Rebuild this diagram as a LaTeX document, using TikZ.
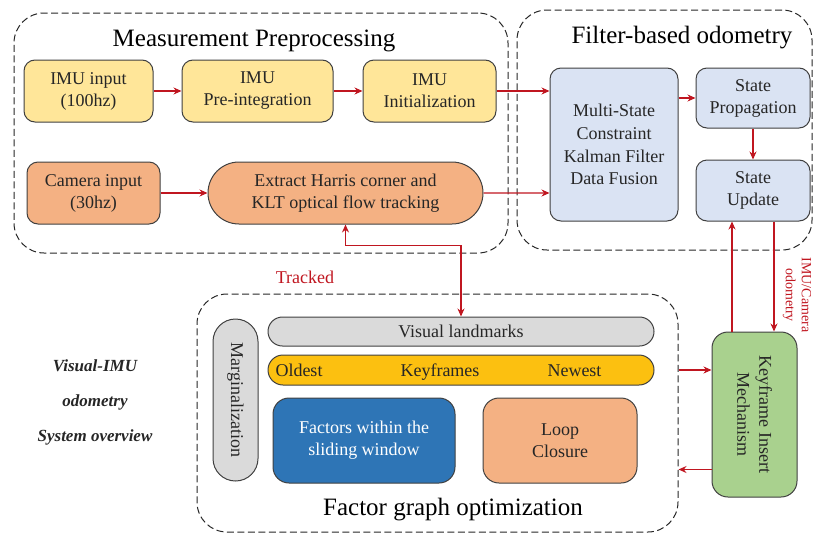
\documentclass[tikz,border=0pt]{standalone}
\usepackage{fontspec}
\setmainfont{Liberation Serif}
\usetikzlibrary{arrows.meta,shapes.misc}
\definecolor{imuyellow}{HTML}{FFE699}
\definecolor{camorange}{HTML}{F4B183}
\definecolor{filterblue}{HTML}{DAE3F3}
\definecolor{lmgray}{HTML}{DADADA}
\definecolor{kfgold}{HTML}{FCC010}
\definecolor{facblue}{HTML}{2E75B6}
\definecolor{kimgreen}{HTML}{A9D18E}
\definecolor{arrowred}{RGB}{192,22,32}
\definecolor{boxline}{HTML}{404040}
\definecolor{textdark}{HTML}{262626}
\begin{document}
\begin{tikzpicture}[x=1pt, y=-1pt, >={Stealth[length=8pt,width=7pt]},
    box/.style={draw=boxline, line width=1pt, rounded corners=11pt, align=center,
      text=textdark, inner sep=2pt, font=\fontsize{18}{22}\selectfont},
    pill/.style={box, rounded rectangle, sharp corners},
    group/.style={draw=textdark, line width=1pt, dash pattern=on 7pt off 3.5pt, rounded corners=30pt},
    arr/.style={->, draw=arrowred, line width=1.4pt},
    title/.style={font=\fontsize{25}{30}\selectfont}]
  \useasboundingbox (0,0) rectangle (813,533);

  % dashed groups
  \node[group, minimum width=494pt, minimum height=240pt] (mp) at (261,133) {};
  \node[group, minimum width=295pt, minimum height=240pt] (fo) at (664.5,130) {};
  \node[group, minimum width=481pt, minimum height=238pt] (fg) at (437.5,413) {};
  \node[title] (mptitle) at (254,41) {Measurement Preprocessing};
  \node[title] (fotitle) at (682,38) {Filter-based odometry};
  \node[title] (fgtitle) at (453,510) {Factor graph optimization};

  % measurement preprocessing
  \node[box, fill=imuyellow, minimum width=129pt, minimum height=62pt] (imuin) at (88.5,91) {IMU input\\(100hz)};
  \node[box, fill=imuyellow, minimum width=151pt, minimum height=62pt] (preint) at (257.5,91) {IMU\\Pre-integration};
  \node[box, fill=imuyellow, minimum width=133pt, minimum height=62pt] (imuinit) at (429.5,91) {IMU\\Initialization};
  \node[box, fill=camorange, minimum width=133pt, minimum height=62pt] (cam) at (93.5,193) {Camera input\\(30hz)};
  \node[pill, fill=camorange, minimum width=279pt, minimum height=62pt] (klt) at (345.5,193) {Extract Harris corner and\\KLT optical flow tracking};

  % filter-based odometry
  \node[box, fill=filterblue, minimum width=128pt, minimum height=153pt, font=\fontsize{18}{22.7}\selectfont] (msckf) at (614,144.5) {Multi-State\\Constraint\\Kalman Filter\\Data Fusion};
  \node[box, fill=filterblue, minimum width=114pt, minimum height=60pt] (prop) at (753,98) {State\\Propagation};
  \node[box, fill=filterblue, minimum width=114pt, minimum height=61pt] (upd) at (753,190.5) {State\\Update};

  % factor graph optimization
  \node[pill, fill=lmgray, minimum width=390pt, minimum height=29pt] (lm) at (461,331.5) {Visual landmarks};
  \node[pill, fill=kfgold, minimum width=390pt, minimum height=30pt] (kfr) at (461,370) {};
  \node[anchor=base, text=textdark, font=\fontsize{18}{22}\selectfont] (oldest) at (299,376) {Oldest};
  \node[anchor=base, text=textdark, font=\fontsize{18}{22}\selectfont] (kftext) at (440,376) {Keyframes};
  \node[anchor=base, text=textdark, font=\fontsize{18}{22}\selectfont] (newest) at (574.5,376) {Newest};
  \node[pill, fill=lmgray, rotate=-90, minimum width=166pt, minimum height=45pt] (marg) at (235.5,400) {Marginalization};
  \node[box, fill=facblue, text=white, rounded corners=16pt, minimum width=182pt, minimum height=85pt] (fac) at (364,440.5) {Factors within the\\sliding window};
  \node[box, fill=camorange, rounded corners=16pt, minimum width=154pt, minimum height=85pt] (loop) at (560,440.5) {Loop\\Closure};

  % keyframe insertion
  \node[box, fill=kimgreen, rotate=-90, rounded corners=16pt, minimum width=165pt, minimum height=85pt] (kim) at (754.5,414.5) {Keyframe Insert\\Mechanism};

  % connectors
  \draw[arr] (imuin) -- (preint);
  \draw[arr] (preint) -- (imuinit);
  \draw[arr] (imuinit) -- (msckf.west |- imuinit);
  \draw[arr] (cam) -- (klt);
  \draw[arr] (klt) -- (msckf.west |- klt);
  \draw[arr] (msckf.east |- prop) -- (prop);
  \draw[arr] (prop) -- (upd);
  \draw[arr] ([xshift=-21pt]upd.south |- kim.west) -- ([xshift=-21pt]upd.south);
  \draw[arr] ([xshift=21pt]upd.south) -- ([xshift=21pt]upd.south |- kim.west);
  \draw[arr] (fg.east |- kfr) -- (kim.south |- kfr);
  \draw[arr] ([yshift=28pt]kim.east -| kim.south) -- ([yshift=28pt]kim.east -| fg.east);
  \draw[arr, <->] (klt.south) -- ++(0,21) -| (lm.north);

  % labels
  \node[text=arrowred, font=\fontsize{18}{22}\selectfont] (trk) at (305,277) {Tracked};
  \node[text=arrowred, rotate=-90, align=center, font=\fontsize{14}{16}\selectfont] (odo) at (797,295) {IMU/Camera\\odometry};
  \node[align=center, text=textdark, font=\fontsize{17}{35}\selectfont\bfseries\itshape] (sys) at (95,402) {Visual-IMU\\odometry\\System overview};
\end{tikzpicture}
\end{document}
